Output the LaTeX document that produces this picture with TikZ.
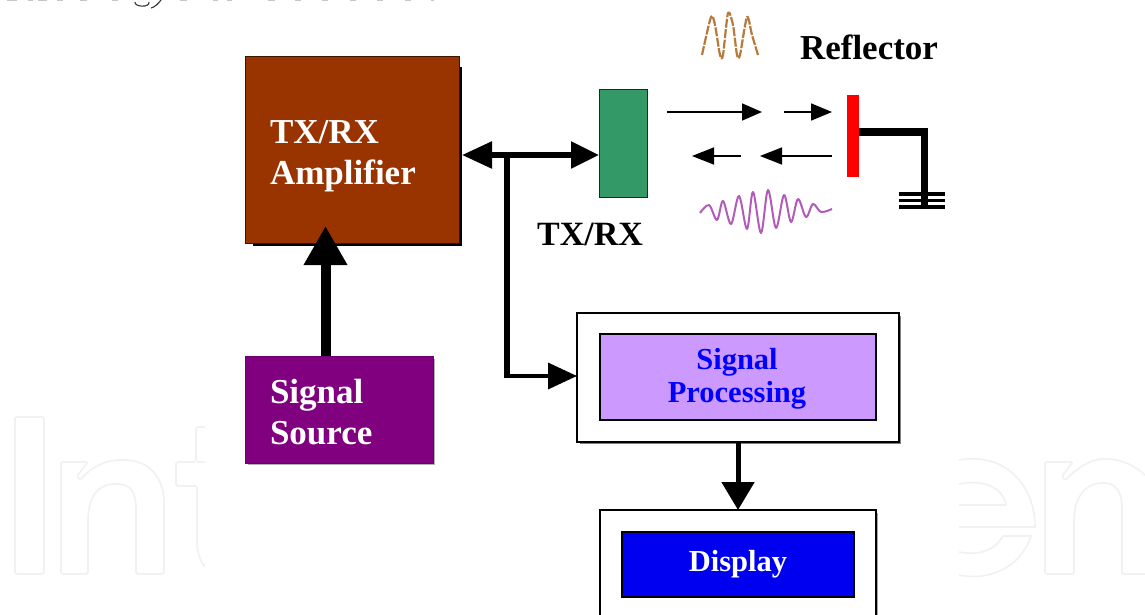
\documentclass[tikz,border=0pt]{standalone}
\usepackage{fontspec}
\setmainfont{Liberation Serif}
\usetikzlibrary{arrows.meta,calc}
\definecolor{ampcol}{HTML}{993300}
\definecolor{txcol}{HTML}{339966}
\definecolor{srccol}{HTML}{800080}
\definecolor{proccol}{HTML}{CC99FF}
\definecolor{dispcol}{HTML}{0000F0}
\definecolor{markcol}{HTML}{F0F1F1}
\definecolor{brownwave}{HTML}{B87A3A}
\definecolor{magwave}{HTML}{B05CB8}
\tikzset{
  every node/.style={outer sep=0pt},
  boxbase/.style={rectangle,inner sep=0pt,anchor=center},
  bigfont/.style={font=\fontsize{35}{41.5}\selectfont\bfseries},
  midfont/.style={font=\fontsize{30.5}{33}\selectfont\bfseries},
  leftbox/.style={boxbase,bigfont,text=white,align=left},
  framebox/.style={boxbase,draw=black,line width=1.5pt,fill=white},
  headM/.style={-{Triangle[length=29pt,width=26pt,sep=0pt]}},
  thinarrow/.style={line width=1.7pt,-{Triangle[length=20pt,width=17pt,sep=0pt]}},
  watermark/.style={draw=markcol,line width=1.6pt,line join=round,rounded corners=1.5pt},
}
\begin{document}
\begin{tikzpicture}[x=1pt,y=-1pt]
\useasboundingbox (0,0) rectangle (1145,615);
\clip (0,0) rectangle (1145,615);
\fill[white] (0,0) rectangle (1145,615);

% faint watermark, left part
\draw[watermark] (15,417) rectangle (44,574);
\draw[watermark] (61,574) -- (61,462) -- (88,462) -- (77,476) -- (80,480)
  .. controls (92,467) and (105,460) .. (122,460)
  .. controls (150,460) and (164,478) .. (164,505) -- (164,574) -- (136,574) -- (136,510)
  .. controls (136,492) and (130,484) .. (116,484)
  .. controls (98,484) and (88,497) .. (88,522) -- (88,574) -- cycle;
\draw[watermark] (205,427) -- (196,427) -- (196,462) -- (176,462) -- (176,486) -- (197,486) -- (197,540)
  .. controls (197,552) and (200,561) .. (205,567);
\draw[watermark] (205,462) -- (197,462);
% faint watermark, right part
\draw[watermark,rounded corners=0pt] (959,460) .. controls (1005,452) and (1035,485) .. (1035,527) -- (959,527);
\draw[watermark,rounded corners=0pt] (959,484) .. controls (985,479) and (1003,488) .. (1006,505) -- (959,505);
\draw[watermark,rounded corners=0pt] (959,552) .. controls (980,556) and (995,550) .. (1003,536) -- (1031,536)
  .. controls (1022,563) and (995,582) .. (959,575);
\draw[watermark] (1146,476) .. controls (1135,465) and (1120,459) .. (1105,459)
  .. controls (1092,459) and (1080,466) .. (1065,480) -- (1062,476) -- (1073,462) -- (1045,462) -- (1045,574) -- (1074,574) -- (1074,522)
  .. controls (1074,497) and (1086,483) .. (1103,483)
  .. controls (1116,483) and (1122,492) .. (1122,510) -- (1122,574) -- (1146,574);

% remains of the cropped text line above the figure
\foreach \a/\b in {7/17,28/33,38/47,57/63,80/87,112/118,180/187,213/218,227/232,268/275,295/301,322/328,350/356,377/383,405/411,431/434}
  \fill[gray!45] (\a,0) rectangle (\b,0.8);
\draw[black!80,line width=1.1pt] (135,2) .. controls (134,7) and (150,8) .. (149,2);
\draw[black!80,line width=1.1pt] (151,8) .. controls (155,7) and (158,4) .. (161,0);

% shadows
\fill[black] (253,67) rectangle (462,246);
\fill[gray!60] (248,359) rectangle (434.5,464.5);
\fill[gray] (580,316) rectangle (900.5,443.5);
\fill[gray!70] (603,513) rectangle (878,640);

% boxes
\node[boxbase,draw=black!60!ampcol,line width=1pt,fill=ampcol,minimum width=214pt,minimum height=186pt] (amp) at (352,150) {};
\node[leftbox,anchor=west] (amptext) at (270,156) {TX/RX\\Amplifier};
\node[boxbase,draw=black!70!txcol,line width=1pt,fill=txcol,minimum width=48pt,minimum height=107pt] (tx) at (623,143.5) {};
\node[boxbase,fill=red,minimum width=12pt,minimum height=82pt] (refl) at (853,136) {};
\node[boxbase,draw=black!15!srccol,line width=1pt,fill=srccol,minimum width=188pt,minimum height=107pt] (src) at (339,409.5) {};
\node[leftbox,anchor=west] (srctext) at (270,412) {Signal\\Source};
\node[framebox,minimum width=322pt,minimum height=129pt] (proc) at (738,377.5) {};
\node[boxbase,draw=black,line width=1.5pt,fill=proccol,minimum width=276pt,minimum height=86pt] (procin) at (738,377) {};
\node[boxbase,text=blue,midfont,align=center] (proctext) at (737,379) {Signal\\Processing};
\node[framebox,minimum width=276pt,minimum height=130pt] (disp) at (738,575) {};
\node[boxbase,draw=black,line width=1.5pt,fill=dispcol,text=white,midfont,minimum width=232pt,minimum height=65pt] (dispin) at (738,564.5) {Display};

% free texts
\node[bigfont,anchor=base,inner sep=0pt] (refltext) at (869,60) {Reflector};
\node[anchor=base,inner sep=0pt,font=\fontsize{34}{40}\selectfont\bfseries] (txtext) at (590,245) {TX/RX};

% connector coordinates
\coordinate (j) at (507,155);
\coordinate (c) at (507,376);
\coordinate (bend) at (924,132);
\coordinate (gnd) at (924,207);
\coordinate (a1s) at (667,112); \coordinate (a1e) at (762,112);
\coordinate (a2s) at (784,112); \coordinate (a2e) at (832,112);
\coordinate (a3s) at (741,156); \coordinate (a3e) at (692,156);
\coordinate (a4s) at (832,156); \coordinate (a4e) at (760,156);

% connectors
\draw[line width=5.5pt,{Triangle[length=30pt,width=26pt,sep=0pt]}-{Triangle[length=28pt,width=26pt,sep=0pt]}]
  ([xshift=3pt]amp.east |- j) -- (tx.west |- j);
\draw[line width=5.5pt] (j) -- (c);
\draw[line width=3.5pt,headM,shorten <=-2.75pt] (c) -- (proc.west |- c);
\draw[line width=10pt,-{Triangle[length=39pt,width=41pt,sep=0pt]}] (src.north -| 325.5,0) -- (325.5,226);
\draw[line width=5pt,-{Triangle[length=28pt,width=32pt,sep=0pt]}] (proc.south) -- (disp.north);
\draw[thinarrow] (a1s) -- (a1e);
\draw[thinarrow,-{Triangle[length=21pt,width=17pt,sep=0pt]}] (a2s) -- (a2e);
\draw[thinarrow,-{Triangle[length=22pt,width=17pt,sep=0pt]}] (a3s) -- (a3e);
\draw[thinarrow,-{Triangle[length=22pt,width=17pt,sep=0pt]}] (a4s) -- (a4e);

% reflector ground
\draw[line width=7pt,line join=miter] (refl.east |- bend) -- (bend) -- (gnd);
\draw[line width=3.4pt] (899,194) -- (945,194);
\draw[line width=3.4pt] (899,200.5) -- (945,200.5);
\draw[line width=3.4pt] (899,207) -- (945,207);

% waveforms
\draw[brownwave,line width=2.2pt,dash pattern=on 9pt off 1.5pt,line join=round]
  plot[smooth,tension=0.45] coordinates {(702,55) (711,17) (715,25) (720,55) (723,55) (728,13) (733,25) (737,55) (740,55) (747,17) (752,35) (758,55)};
\draw[magwave,line width=2pt,line join=round]
  plot[smooth,tension=0.55] coordinates {(700,213) (709,205) (717,220) (723,201) (731,224) (739,196) (747,229) (753,192) (761,233) (768,190) (776,228) (784,195) (791,222) (798,199) (806,217) (813,204) (821,212) (832,209)};
\end{tikzpicture}
\end{document}
